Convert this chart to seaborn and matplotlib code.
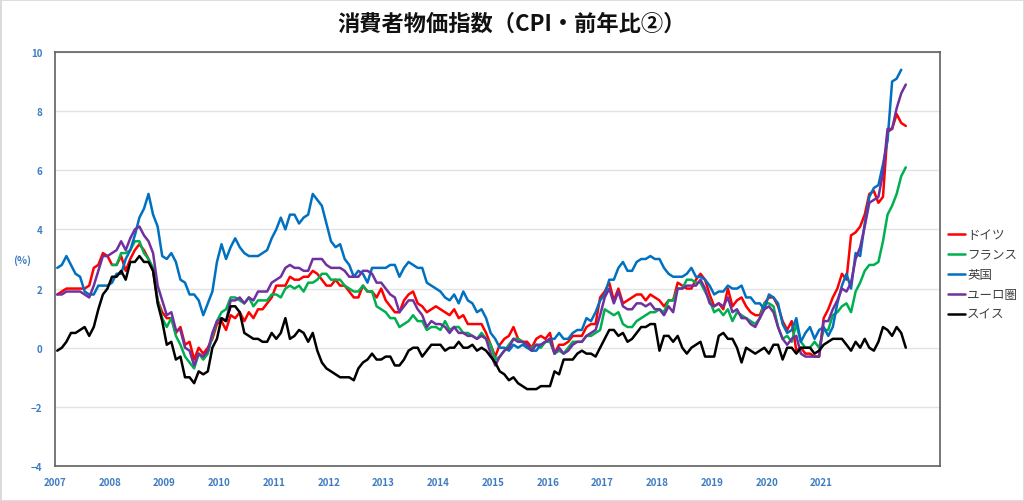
import numpy as np
import pandas as pd
import matplotlib
matplotlib.use("Agg")
import matplotlib.pyplot as plt
from matplotlib.patches import Rectangle
import seaborn as sns

# Monthly CPI, year-on-year (%), Jan 2007 - Jul 2022 (one row per year)
germany = [
    1.8, 1.9, 2.0, 2.0, 2.0, 2.0, 2.0, 2.1, 2.7, 2.8, 3.2, 3.1,
    2.8, 2.8, 3.1, 2.6, 3.0, 3.3, 3.5, 3.3, 3.0, 2.6, 1.6, 1.2,
    1.0, 1.0, 0.5, 0.7, 0.1, 0.2, -0.4, 0.0, -0.2, 0.0, 0.3, 0.8,
    0.9, 0.6, 1.1, 1.0, 1.2, 0.9, 1.2, 1.0, 1.3, 1.3, 1.5, 1.7,
    2.1, 2.1, 2.1, 2.4, 2.3, 2.3, 2.4, 2.4, 2.6, 2.5, 2.3, 2.1,
    2.1, 2.3, 2.1, 2.1, 1.9, 1.7, 1.7, 2.1, 1.9, 1.9, 1.7, 2.0,
    1.6, 1.4, 1.2, 1.2, 1.6, 1.8, 1.9, 1.5, 1.4, 1.2, 1.3, 1.4,
    1.3, 1.2, 1.1, 1.3, 1.0, 1.1, 0.8, 0.8, 0.8, 0.8, 0.5, 0.1,
    -0.3, 0.1, 0.3, 0.4, 0.7, 0.3, 0.2, 0.2, 0.0, 0.3, 0.4, 0.3,
    0.5, -0.2, 0.1, 0.1, 0.2, 0.4, 0.4, 0.4, 0.7, 0.8, 0.8, 1.7,
    1.9, 2.2, 1.6, 2.0, 1.5, 1.6, 1.7, 1.8, 1.8, 1.6, 1.8, 1.7,
    1.6, 1.4, 1.6, 1.6, 2.2, 2.1, 2.0, 2.0, 2.3, 2.5, 2.3, 1.8,
    1.4, 1.5, 1.3, 2.0, 1.4, 1.6, 1.7, 1.4, 1.2, 1.1, 1.1, 1.5,
    1.7, 1.7, 1.4, 0.9, 0.6, 0.9, -0.1, 0.0, -0.2, -0.2, -0.3, -0.3,
    1.0, 1.3, 1.7, 2.0, 2.5, 2.3, 3.8, 3.9, 4.1, 4.5, 5.2, 5.3,
    4.9, 5.1, 7.3, 7.4, 7.9, 7.6, 7.5,
]

france = [
    None, None, None, None, None, None, None, None, None, None, None, None,
    2.8, 2.8, 3.2, 3.2, 3.3, 3.6, 3.6, 3.2, 3.0, 2.7, 1.6, 1.0,
    0.7, 1.0, 0.4, 0.1, -0.3, -0.5, -0.7, -0.2, -0.4, -0.2, 0.4, 0.9,
    1.2, 1.3, 1.7, 1.7, 1.6, 1.5, 1.7, 1.4, 1.6, 1.6, 1.6, 1.8,
    1.8, 1.7, 2.0, 2.1, 2.0, 2.1, 1.9, 2.2, 2.2, 2.3, 2.5, 2.5,
    2.3, 2.3, 2.3, 2.1, 2.0, 1.9, 1.9, 2.1, 1.9, 1.9, 1.4, 1.3,
    1.2, 1.0, 1.0, 0.7, 0.8, 0.9, 1.1, 0.9, 0.9, 0.6, 0.7, 0.7,
    0.6, 0.9, 0.6, 0.7, 0.7, 0.5, 0.5, 0.4, 0.3, 0.5, 0.3, 0.1,
    -0.4, -0.3, -0.1, 0.1, 0.3, 0.3, 0.2, 0.0, 0.0, 0.1, 0.0, 0.2,
    0.2, -0.2, -0.1, -0.2, 0.0, 0.2, 0.2, 0.2, 0.4, 0.4, 0.5, 0.6,
    1.3, 1.2, 1.1, 1.2, 0.8, 0.7, 0.7, 0.9, 1.0, 1.1, 1.2, 1.2,
    1.3, 1.2, 1.6, 1.6, 2.0, 2.0, 2.3, 2.3, 2.2, 2.2, 1.9, 1.6,
    1.2, 1.3, 1.1, 1.3, 0.9, 1.2, 1.1, 1.0, 0.9, 0.8, 1.0, 1.5,
    1.5, 1.4, 0.7, 0.3, 0.4, 0.2, 0.8, 0.2, 0.0, 0.0, 0.2, 0.0,
    0.6, 0.6, 1.1, 1.2, 1.4, 1.5, 1.2, 1.9, 2.2, 2.6, 2.8, 2.8,
    2.9, 3.6, 4.5, 4.8, 5.2, 5.8, 6.1,
]

uk = [
    2.7, 2.8, 3.1, 2.8, 2.5, 2.4, 1.9, 1.8, 1.8, 2.1, 2.1, 2.1,
    2.2, 2.5, 2.5, 3.0, 3.3, 3.8, 4.4, 4.7, 5.2, 4.5, 4.1, 3.1,
    3.0, 3.2, 2.9, 2.3, 2.2, 1.8, 1.8, 1.6, 1.1, 1.5, 1.9, 2.9,
    3.5, 3.0, 3.4, 3.7, 3.4, 3.2, 3.1, 3.1, 3.1, 3.2, 3.3, 3.7,
    4.0, 4.4, 4.0, 4.5, 4.5, 4.2, 4.4, 4.5, 5.2, 5.0, 4.8, 4.2,
    3.6, 3.4, 3.5, 3.0, 2.8, 2.4, 2.6, 2.5, 2.2, 2.7, 2.7, 2.7,
    2.7, 2.8, 2.8, 2.4, 2.7, 2.9, 2.8, 2.7, 2.7, 2.2, 2.1, 2.0,
    1.9, 1.7, 1.6, 1.8, 1.5, 1.9, 1.6, 1.5, 1.2, 1.3, 1.0, 0.5,
    0.3, 0.0, 0.0, -0.1, 0.1, 0.0, 0.1, 0.0, -0.1, -0.1, 0.1, 0.2,
    0.3, 0.3, 0.5, 0.3, 0.3, 0.5, 0.6, 0.6, 1.0, 0.9, 1.2, 1.6,
    1.8, 2.3, 2.3, 2.7, 2.9, 2.6, 2.6, 2.9, 3.0, 3.0, 3.1, 3.0,
    3.0, 2.7, 2.5, 2.4, 2.4, 2.4, 2.5, 2.7, 2.4, 2.4, 2.3, 2.1,
    1.8, 1.9, 1.9, 2.1, 2.0, 2.0, 2.1, 1.7, 1.7, 1.5, 1.5, 1.3,
    1.8, 1.7, 1.5, 0.8, 0.5, 0.6, 1.0, 0.2, 0.5, 0.7, 0.3, 0.6,
    0.7, 0.4, 0.7, 1.5, 2.1, 2.5, 2.0, 3.2, 3.1, 4.2, 5.1, 5.4,
    5.5, 6.2, 7.0, 9.0, 9.1, 9.4, None,
]

euro = [
    1.8, 1.8, 1.9, 1.9, 1.9, 1.9, 1.8, 1.7, 2.1, 2.6, 3.1, 3.1,
    3.2, 3.3, 3.6, 3.3, 3.7, 4.0, 4.1, 3.8, 3.6, 3.2, 2.1, 1.6,
    1.1, 1.2, 0.6, 0.6, 0.0, -0.1, -0.6, -0.2, -0.3, -0.1, 0.5, 0.9,
    1.0, 0.9, 1.6, 1.6, 1.7, 1.5, 1.7, 1.6, 1.9, 1.9, 1.9, 2.2,
    2.3, 2.4, 2.7, 2.8, 2.7, 2.7, 2.6, 2.6, 3.0, 3.0, 3.0, 2.8,
    2.7, 2.7, 2.7, 2.6, 2.4, 2.4, 2.4, 2.6, 2.6, 2.5, 2.2, 2.2,
    2.0, 1.8, 1.7, 1.2, 1.4, 1.6, 1.6, 1.3, 1.1, 0.7, 0.9, 0.8,
    0.8, 0.7, 0.5, 0.7, 0.5, 0.5, 0.4, 0.4, 0.3, 0.4, 0.3, -0.2,
    -0.6, -0.3, -0.1, 0.0, 0.3, 0.2, 0.2, 0.1, -0.1, 0.1, 0.1, 0.2,
    0.3, -0.2, 0.0, -0.2, -0.1, 0.1, 0.2, 0.2, 0.4, 0.5, 0.6, 1.1,
    1.7, 2.0, 1.5, 1.9, 1.4, 1.3, 1.3, 1.5, 1.5, 1.4, 1.5, 1.3,
    1.3, 1.1, 1.4, 1.2, 2.0, 2.0, 2.1, 2.1, 2.1, 2.3, 2.0, 1.5,
    1.4, 1.5, 1.4, 1.7, 1.2, 1.3, 1.0, 1.0, 0.8, 0.7, 1.0, 1.3,
    1.4, 1.2, 0.7, 0.3, 0.1, 0.3, 0.4, -0.2, -0.3, -0.3, -0.3, -0.3,
    0.9, 0.9, 1.3, 1.6, 2.0, 1.9, 2.2, 3.0, 3.4, 4.1, 4.9, 5.0,
    5.1, 5.9, 7.4, 7.4, 8.1, 8.6, 8.9,
]

swiss = [
    -0.1, 0.0, 0.2, 0.5, 0.5, 0.6, 0.7, 0.4, 0.7, 1.3, 1.8, 2.0,
    2.4, 2.4, 2.6, 2.3, 2.9, 2.9, 3.1, 2.9, 2.9, 2.6, 1.5, 0.9,
    0.1, 0.2, -0.4, -0.3, -1.0, -1.0, -1.2, -0.8, -0.9, -0.8, 0.0, 0.3,
    1.0, 0.9, 1.4, 1.4, 1.2, 0.5, 0.4, 0.3, 0.3, 0.2, 0.2, 0.5,
    0.3, 0.5, 1.0, 0.3, 0.4, 0.6, 0.5, 0.2, 0.5, -0.1, -0.5, -0.7,
    -0.8, -0.9, -1.0, -1.0, -1.0, -1.1, -0.7, -0.5, -0.4, -0.2, -0.4, -0.4,
    -0.3, -0.3, -0.6, -0.6, -0.4, -0.1, 0.0, 0.0, -0.3, -0.1, 0.1, 0.1,
    0.1, -0.1, 0.0, 0.0, 0.2, 0.0, 0.0, 0.1, -0.1, 0.0, -0.1, -0.3,
    -0.5, -0.8, -0.9, -1.1, -1.0, -1.2, -1.3, -1.4, -1.4, -1.4, -1.3, -1.3,
    -1.3, -0.8, -0.9, -0.4, -0.4, -0.4, -0.2, -0.1, -0.2, -0.2, -0.3, 0.0,
    0.3, 0.6, 0.6, 0.4, 0.5, 0.2, 0.3, 0.5, 0.7, 0.7, 0.8, 0.8,
    -0.1, 0.4, 0.4, 0.2, 0.4, 0.0, -0.2, 0.0, 0.1, 0.2, -0.3, -0.3,
    -0.3, 0.4, 0.5, 0.3, 0.3, 0.0, -0.5, 0.0, -0.1, -0.2, -0.1, 0.0,
    -0.2, 0.1, 0.1, -0.4, 0.0, 0.0, -0.2, 0.0, 0.0, 0.0, -0.2, -0.1,
    0.1, 0.2, 0.3, 0.3, 0.3, 0.1, -0.1, 0.2, 0.0, 0.3, 0.0, -0.1,
    0.2, 0.7, 0.6, 0.4, 0.7, 0.5, 0.0,
]

series_names = ['ドイツ', 'フランス', '英国', 'ユーロ圏', 'スイス']
series_colors = ['#FF0000', '#00B050', '#0070C0', '#7030A0', '#000000']
year_labels = [str(y) for y in range(2007, 2022)]

TICK_BLUE = '#3d7cc2'

sns.set_theme(style="white")
plt.rcParams['font.family'] = ['Noto Sans CJK JP', 'DejaVu Sans']

# long-form table, month index as category position
months = pd.date_range('2007-01-01', periods=len(germany), freq='MS')
df = pd.DataFrame({
    'idx': np.arange(len(months)),
    'ドイツ': germany,
    'フランス': france,
    '英国': uk,
    'ユーロ圏': euro,
    'スイス': swiss,
})
long_df = df.melt(id_vars='idx', var_name='国', value_name='cpi').dropna()

fig = plt.figure(figsize=(10.24, 5.02), dpi=100)
ax = fig.add_axes([55 / 1024, 1 - 467 / 502, 885 / 1024, 414 / 502])

sns.lineplot(data=long_df, x='idx', y='cpi', hue='国', hue_order=series_names,
             palette=series_colors, linewidth=1.8, ax=ax, legend=True)

ax.set_xlim(-0.5, 193.5)
ax.set_ylim(-4, 10)
ax.set_yticks(range(-4, 11, 2))
ax.set_xticks([12 * k - 0.5 for k in range(len(year_labels))])
ax.set_xticklabels(year_labels)
ax.set_xlabel('')
ax.set_ylabel('')

ax.yaxis.grid(True, color='#e3e3e3', linewidth=1)
ax.xaxis.grid(False)
ax.set_axisbelow(True)
for sp in ax.spines.values():
    sp.set_color('#606060')
    sp.set_linewidth(1.2)

ax.tick_params(axis='both', length=0, labelsize=7, labelcolor=TICK_BLUE)
ax.tick_params(axis='y', pad=9)
ax.tick_params(axis='x', pad=8)
for lab in ax.get_xticklabels() + ax.get_yticklabels():
    lab.set_fontweight('bold')

fig.text(22 / 1024, 1 - 261 / 502, '(%)', color=TICK_BLUE, fontsize=7.5,
         fontweight='bold', ha='center', va='center')

fig.text(0.5, 1 - 24 / 502, '消費者物価指数（CPI・前年比②）', fontsize=16,
         fontweight='bold', ha='center', va='center', color='#111111')

handles, labels = ax.get_legend_handles_labels()
leg = ax.legend(handles, labels, loc='center left', bbox_to_anchor=(1.003, 0.462),
                frameon=False, fontsize=9, handlelength=1.4, handletextpad=0.15,
                labelspacing=0.55, borderaxespad=0)
for t in leg.get_texts():
    t.set_color('#404040')

fig.patches.append(Rectangle((0, 0), 1, 1, transform=fig.transFigure, fill=False,
                             edgecolor='#d9d9d9', linewidth=2))

fig.savefig('out.png', dpi=100)
